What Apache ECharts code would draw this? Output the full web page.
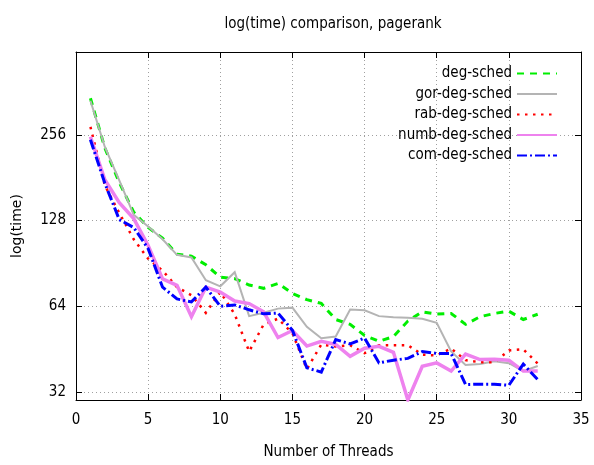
<!DOCTYPE html>
<html>
<head>
<meta charset="utf-8">
<script src="https://cdn.jsdelivr.net/npm/echarts@6/dist/echarts.min.js"></script>
<style>
html,body{margin:0;padding:0;background:#fff;}
#chart{width:594px;height:465px;}
</style>
</head>
<body>
<div id="chart"></div>
<script>
var threads = [1,2,3,4,5,6,7,8,9,10,11,12,13,14,15,16,17,18,19,20,21,22,23,24,25,26,27,28,29,30,31,32];
var degSched = [344,230,174,137,121,111,97.5,96,89.5,81,80,76,74,77,71,67.5,65.5,57.5,55.3,50.6,48.2,50.1,56.8,61.2,60.1,60.4,55.3,58.8,60.4,61.5,57.5,60];
var gorDegSched = [337,232,177,134,122,110,97,95,79,75.2,84.3,59.1,60.7,62.8,63.3,54.2,49.4,50.1,62.3,62,59.1,58.6,58.3,57.9,56,44.4,39.8,40.1,41,40.4,37.9,39.5];
var rabDegSched = [273,170,136,110,94,85.4,74.7,70,60.7,71.8,60,44.4,55.2,57.9,51.5,38.5,47,46.2,46.7,43.8,46.7,46.7,46.7,43.3,43,45.5,41.4,40.7,40.7,44.8,45.2,40.3];
var numbDegSched = [252,178,148,130,104.6,79.9,75.8,58.8,74.7,71.8,66.8,65.4,61.2,49.7,52.6,46.4,48.2,47,42.7,45.6,46.3,44.1,30,39.4,40.5,37.9,43.5,41.6,41.7,41.4,37.9,37.9];
var comDegSched = [246,173,129,121,102,74.7,67.9,66.3,74.7,64,64.7,62.2,60.2,60.6,52.7,38.9,37.6,48.9,47.2,49.5,40.5,41.4,42,44.4,43.7,43.7,34,34.1,34.1,33.8,40.1,35.4];
var seriesNames = ['deg-sched','gor-deg-sched','rab-deg-sched','numb-deg-sched','com-deg-sched'];
var xTicks = [0,5,10,15,20,25,30,35];
var yTicks = [32,64,128,256];

var FONT = "'DejaVu Sans Condensed','DejaVu Sans',sans-serif";
function pairs(vals){ return threads.map(function(t,i){ return [t, vals[i]]; }); }

var styles = [
  {color:'#00ee00', width:3, type:[7,6]},
  {color:'#b4b4b4', width:2, type:'solid'},
  {color:'#ff0000', width:2.5, type:[2.5,5.5]},
  {color:'#ee82ee', width:3.5, type:'solid'},
  {color:'#0000ff', width:3, type:[10,3,2,3]}
];
var values = [degSched, gorDegSched, rabDegSched, numbDegSched, comDegSched];

var series = values.map(function(v, i){
  return {
    name: seriesNames[i], type:'line', data: pairs(v), symbol:'none',
    xAxisIndex:0, yAxisIndex:0,
    lineStyle:{color:styles[i].color, width:styles[i].width, type:styles[i].type, cap:'butt', join:'miter'},
    itemStyle:{color:styles[i].color},
    emphasis:{disabled:true}, animation:false
  };
});

var splitStyle = {show:true, lineStyle:{color:'#a0a0a0', width:1, type:[1,3]}};
var chart = echarts.init(document.getElementById('chart'), null, {renderer:'canvas'});
chart.setOption({
  animation:false,
  backgroundColor:'#ffffff',
  title:{text:'log(time) comparison, pagerank', left:328, top:12, textAlign:'center',
    textStyle:{fontFamily:FONT, fontSize:15, fontWeight:'normal', color:'#000'}},
  grid:{left:76, right:13, top:52, bottom:61, show:false},
  legend:{orient:'vertical', right:31, top:61, align:'right', itemWidth:40, itemHeight:14, itemGap:5.5,
    itemStyle:{opacity:0},
    textStyle:{fontFamily:FONT, fontSize:15, color:'#000'}, data:seriesNames, selectedMode:false},
  xAxis:[
    {type:'value', min:0, max:35, interval:5, position:'bottom',
     name:'Number of Threads', nameLocation:'middle', nameGap:45,
     nameTextStyle:{fontFamily:FONT, fontSize:15, color:'#000'},
     axisLine:{show:true, onZero:false, lineStyle:{color:'#000', width:1}},
     axisTick:{show:true, inside:true, length:6, lineStyle:{color:'#000'}},
     axisLabel:{fontFamily:FONT, fontSize:15, color:'#000', margin:13},
     splitLine:splitStyle},
    {type:'value', min:0, max:35, interval:5, position:'top',
     axisLine:{show:true, onZero:false, lineStyle:{color:'#000', width:1}},
     axisTick:{show:true, inside:true, length:6, lineStyle:{color:'#000'}},
     axisLabel:{show:false}, splitLine:{show:false}}
  ],
  yAxis:[
    {type:'log', logBase:2, min:30, max:500, position:'left',
     name:'log(time)', nameLocation:'middle', nameGap:52, nameRotate:90,
     nameTextStyle:{fontFamily:"'DejaVu Sans',sans-serif", fontSize:14, color:'#000'},
     axisLine:{show:true, onZero:false, lineStyle:{color:'#000', width:1}},
     axisTick:{show:true, inside:true, length:6, lineStyle:{color:'#000'}},
     axisLabel:{fontFamily:FONT, fontSize:15, color:'#000', margin:10, showMinLabel:false, showMaxLabel:false,
       formatter:function(v){ return yTicks.indexOf(Math.round(v))>=0 ? String(Math.round(v)) : ''; }},
     splitLine:splitStyle},
    {type:'log', logBase:2, min:30, max:500, position:'right',
     axisLine:{show:true, onZero:false, lineStyle:{color:'#000', width:1}},
     axisTick:{show:true, inside:true, length:6, lineStyle:{color:'#000'}},
     axisLabel:{show:false}, splitLine:{show:false}}
  ],
  series: series
});
</script>
</body>
</html>
